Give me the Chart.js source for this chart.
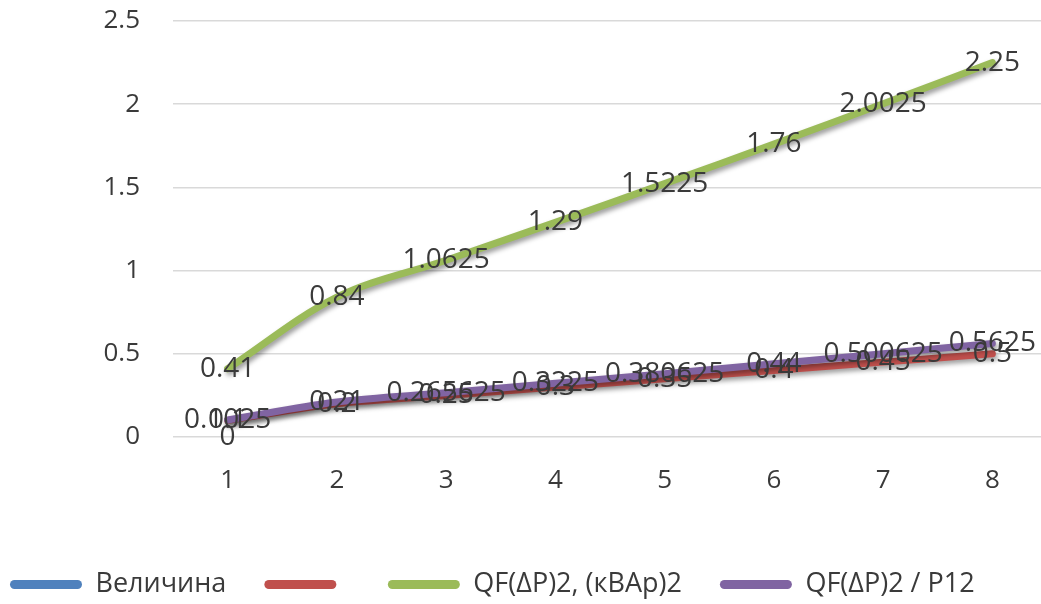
<!DOCTYPE html>
<html>
<head>
<meta charset="utf-8">
<script src="https://cdn.jsdelivr.net/npm/chart.js@4.4.1/dist/chart.umd.min.js"></script>
<style>
  html, body { margin: 0; padding: 0; background: #ffffff; overflow: hidden; width: 1041px; height: 604px; }
  #wrap { position: absolute; left: -28px; top: 0; width: 1075px; height: 604px; }
</style>
</head>
<body>
<div id="wrap"><canvas id="c"></canvas></div>
<script>
const categories = ['1', '2', '3', '4', '5', '6', '7', '8'];
const seriesNames = ['Величина', '', 'QF(ΔP)2, (кВАр)2', 'QF(ΔP)2 / P12'];
const valuesBlue = [0, null, null, null, null, null, null, null];
const valuesRed = [0.1, 0.2, 0.25, 0.3, 0.35, 0.4, 0.45, 0.5];
const valuesGreen = [0.41, 0.84, 1.0625, 1.29, 1.5225, 1.76, 2.0025, 2.25];
const valuesPurple = [0.1025, 0.21, 0.265625, 0.3225, 0.380625, 0.44, 0.500625, 0.5625];
const yTicks = [0, 0.5, 1, 1.5, 2, 2.5];
const seriesColors = ['#4F81BD', '#C0504D', '#9BBB59', '#8064A2'];

const FONT = "'Open Sans', sans-serif";
const TEXT = '#3a3a3a';

const shadowPlugin = {
  id: 'lineShadow',
  beforeDatasetDraw(chart) {
    const ctx = chart.ctx;
    ctx.save();
    ctx.shadowColor = 'rgba(0,0,0,0.4)';
    ctx.shadowBlur = 5;
    ctx.shadowOffsetX = 2;
    ctx.shadowOffsetY = 3;
  },
  afterDatasetDraw(chart) {
    chart.ctx.restore();
  }
};

const labelPlugin = {
  id: 'valueLabels',
  afterDatasetsDraw(chart) {
    const ctx = chart.ctx;
    ctx.save();
    ctx.font = '28px ' + FONT;
    ctx.fillStyle = TEXT;
    ctx.textAlign = 'center';
    ctx.textBaseline = 'middle';
    chart.data.datasets.forEach((ds, di) => {
      const meta = chart.getDatasetMeta(di);
      meta.data.forEach((pt, i) => {
        const v = ds.data[i];
        if (v === null || v === undefined) return;
        ctx.fillText(String(v), pt.x, pt.y);
      });
    });
    ctx.restore();
  }
};

const seriesData = [valuesBlue, valuesRed, valuesGreen, valuesPurple];
const drawOrder = [3, 2, 1, 0];

new Chart(document.getElementById('c'), {
  type: 'line',
  data: {
    labels: categories,
    datasets: seriesData.map((d, i) => ({
      label: seriesNames[i],
      data: d,
      borderColor: seriesColors[i],
      backgroundColor: seriesColors[i],
      borderWidth: 7,
      pointRadius: 0,
      tension: 0.35,
      fill: false,
      spanGaps: false,
      borderCapStyle: 'round',
      borderJoinStyle: 'round',
      order: drawOrder[i]
    }))
  },
  options: {
    responsive: true,
    maintainAspectRatio: false,
    animation: false,
    layout: { padding: { top: 21, right: 0, bottom: -4, left: 0 } },
    plugins: {
      tooltip: { enabled: false },
      legend: {
        position: 'bottom',
        align: 'start',
        labels: {
          boxWidth: 72,
          boxHeight: 9,
          padding: 38,
          color: TEXT,
          font: { family: FONT, size: 27 },
          generateLabels(chart) {
            return chart.data.datasets.map((ds, i) => ({
              text: ds.label,
              fillStyle: seriesColors[i],
              strokeStyle: seriesColors[i],
              lineWidth: 0,
              borderRadius: 4.5,
              hidden: false,
              datasetIndex: i,
              fontColor: TEXT
            }));
          }
        }
      }
    },
    scales: {
      x: {
        offset: true,
        grid: { display: false, drawTicks: false },
        border: { display: false },
        ticks: { color: TEXT, font: { family: FONT, size: 26 }, padding: 28, maxRotation: 0 },
        afterFit(scale) { scale.height = 96; scale.paddingLeft = 0; scale.paddingRight = 0; }
      },
      y: {
        min: 0,
        max: 2.5,
        afterBuildTicks(scale) { scale.ticks = yTicks.map(v => ({ value: v })); },
        grid: { color: '#d9d9d9', lineWidth: 1.5, drawTicks: false },
        border: { display: false },
        ticks: { color: TEXT, font: { family: FONT, size: 26 }, padding: 33,
                 callback: (v) => String(v) },
        afterFit(scale) { scale.width = 201; scale.paddingTop = 0; scale.paddingBottom = 0; }
      }
    }
  },
  plugins: [shadowPlugin, labelPlugin]
});
</script>
</body>
</html>
